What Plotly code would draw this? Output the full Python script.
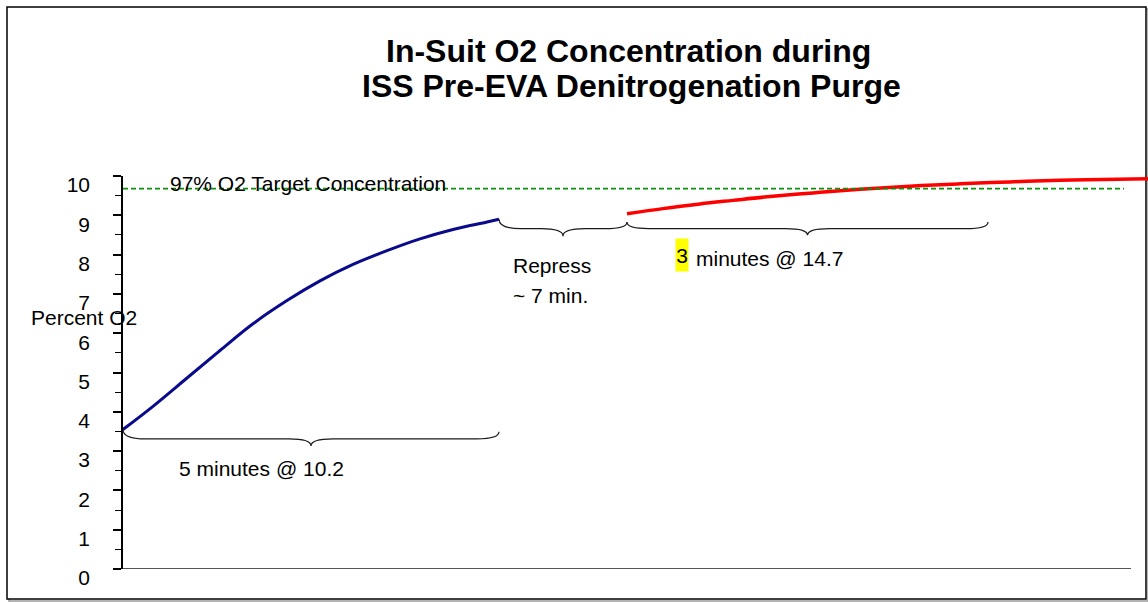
import plotly.graph_objects as go

# ---- data (x: elapsed sample index, y: percent O2 scale 0-10) ----
blue_x = [0, 30, 64, 97, 130, 164, 197, 230, 264, 297, 330, 364, 376]
blue_y = [3.55, 4.14, 4.86, 5.56, 6.24, 6.83, 7.33, 7.75, 8.10, 8.40, 8.64, 8.83, 8.90]

red_x = [504, 540, 577, 610, 644, 690, 737, 787, 837, 887, 937, 980, 1025]
red_y = [9.04, 9.17, 9.29, 9.38, 9.47, 9.57, 9.66, 9.74, 9.80, 9.85, 9.89, 9.91, 9.93]

target_value = 9.68
target_x = [0, 1001]

y_ticks = [0, 1, 2, 3, 4, 5, 6, 7, 8, 9, 10]

# braces: start x, end x, start y, end y, middle y, tip y
brace_x0 = [0, 376, 504]
brace_x1 = [376, 504, 865]
brace_ys = [3.55, 8.90, 8.82]
brace_ye = [3.49, 8.83, 8.83]
brace_ym = [3.31, 8.66, 8.66]
brace_yt = [3.13, 8.47, 8.49]

W, H = 1148, 602
ML, MR, MT, MB = 123, 0, 176, 33
FONT = "Arial, 'Liberation Sans', sans-serif"
AFS = 21

fig = go.Figure()
fig.add_trace(go.Scatter(x=blue_x, y=blue_y, mode="lines", line=dict(color="#0a0a8c", width=3, shape="spline"),
                         hoverinfo="skip"))
fig.add_trace(go.Scatter(x=red_x, y=red_y, mode="lines", line=dict(color="#ff0000", width=3.5, shape="spline"),
                         hoverinfo="skip"))
fig.add_trace(go.Scatter(x=target_x, y=[target_value, target_value], mode="lines",
                         line=dict(color="#0c900c", width=1.8, dash="5px,3px"), hoverinfo="skip"))

shapes = []
def brace(x0, x1, ys, ye, ym, yt, r=22):
    xc = (x0 + x1) / 2
    return (f"M {x0},{ys} Q {x0},{ym} {x0 + r},{ym} L {xc - r},{ym} "
            f"Q {xc},{ym} {xc},{yt} Q {xc},{ym} {xc + r},{ym} L {x1 - r},{ym} Q {x1},{ym} {x1},{ye}")

for i in range(len(brace_x0)):
    shapes.append(dict(type="path", xref="x", yref="y",
                       path=brace(brace_x0[i], brace_x1[i], brace_ys[i], brace_ye[i], brace_ym[i], brace_yt[i]),
                       line=dict(color="#1a1a1a", width=1.2)))

# bottom axis line
shapes.append(dict(type="line", xref="x", yref="y", x0=0, x1=1008, y0=0, y1=0,
                   line=dict(color="#555555", width=2)))

# outer frame (converted from pixels to paper coords)
pw = W - ML - MR
ph = H - MT - MB
def px(xp):
    return (xp - ML) / pw
def py(yp):
    return (H - MB - yp) / ph
shapes.append(dict(type="rect", xref="paper", yref="paper", x0=px(9), x1=px(1148), y0=py(601), y1=py(9),
                   line=dict(color="#9a9a9a", width=1.5), layer="below"))
shapes.append(dict(type="rect", xref="paper", yref="paper", x0=px(7), x1=px(1146), y0=py(599), y1=py(7),
                   line=dict(color="#000000", width=1.5), fillcolor="white", layer="below"))

ann = []
ann.append(dict(text="<b>In-Suit O2 Concentration during</b>", xref="paper", yref="paper",
                x=px(628), y=py(51), xanchor="center", yanchor="middle", showarrow=False,
                font=dict(size=32, family=FONT, color="black")))
ann.append(dict(text="<b>ISS Pre-EVA Denitrogenation Purge</b>", xref="paper", yref="paper",
                x=px(631), y=py(86), xanchor="center", yanchor="middle", showarrow=False,
                font=dict(size=32, family=FONT, color="black")))
ann.append(dict(text="Percent O2", xref="paper", yref="y", x=px(29), y=6.41, xanchor="left", yanchor="middle",
                showarrow=False, font=dict(size=AFS, family=FONT, color="black")))
ann.append(dict(text="97% O2 Target Concentration", xref="x", yref="y", x=45, y=9.82, xanchor="left",
                yanchor="middle", showarrow=False, font=dict(size=AFS, family=FONT, color="black")))
ann.append(dict(text="Repress", xref="x", yref="y", x=388, y=7.73, xanchor="left", yanchor="middle",
                showarrow=False, font=dict(size=AFS, family=FONT, color="black")))
ann.append(dict(text="~ 7 min.", xref="x", yref="y", x=388, y=6.97, xanchor="left", yanchor="middle",
                showarrow=False, font=dict(size=AFS, family=FONT, color="black")))
ann.append(dict(text="3", xref="x", yref="y", x=559, y=7.99, xanchor="center", yanchor="middle",
                showarrow=False, bgcolor="#ffff00", borderpad=0, width=12, height=32,
                font=dict(size=AFS, family=FONT, color="black")))
ann.append(dict(text="minutes @ 14.7", xref="x", yref="y", x=571, y=7.91, xanchor="left", yanchor="middle",
                showarrow=False, font=dict(size=AFS, family=FONT, color="black")))
ann.append(dict(text="5 minutes @ 10.2", xref="x", yref="y", x=54, y=2.57, xanchor="left", yanchor="middle",
                showarrow=False, font=dict(size=AFS, family=FONT, color="black")))

fig.update_layout(
    width=W, height=H,
    margin=dict(l=ML, r=MR, t=MT, b=MB, pad=0),
    paper_bgcolor="white", plot_bgcolor="rgba(0,0,0,0)",
    showlegend=False,
    shapes=shapes, annotations=ann,
    xaxis=dict(range=[0, pw], visible=False, fixedrange=True),
    yaxis=dict(range=[0, 10], tickvals=y_ticks, ticktext=[str(v) for v in y_ticks],
               showgrid=False, zeroline=False, showline=True, linecolor="black", linewidth=1.5,
               ticks="outside", ticklen=8, tickwidth=1.5, tickcolor="black",
               minor=dict(ticks="outside", ticklen=6, tickwidth=1.2, tickcolor="black", dtick=0.5, showgrid=False),
               tickfont=dict(size=21, family=FONT, color="black"),
               ticklabelshift=9, ticklabelstandoff=19, fixedrange=True),
)

fig.write_html("out.html", config={"displayModeBar": False},
               post_script="document.body.style.margin='0px';document.body.style.overflow='hidden';")
